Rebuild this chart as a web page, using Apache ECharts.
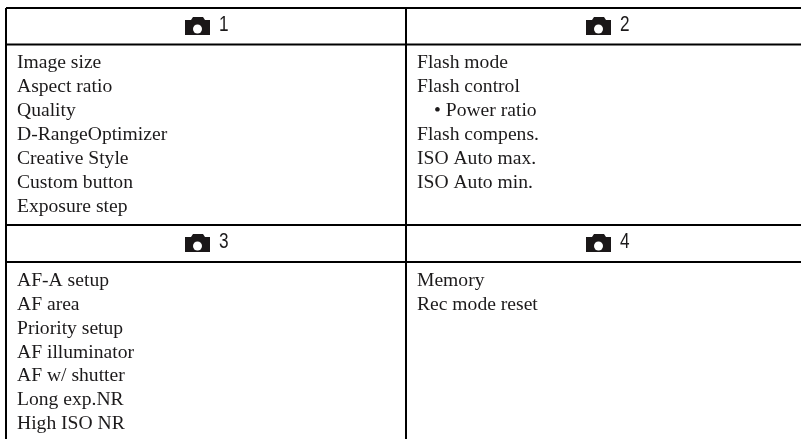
<!DOCTYPE html>
<html>
<head>
<meta charset="utf-8">
<script src="https://cdn.jsdelivr.net/npm/echarts@6/dist/echarts.min.js"></script>
<style>
html, body { margin: 0; padding: 0; background: #fff; }
#chart { width: 801px; height: 439px; }
</style>
</head>
<body>
<div id="chart"></div>
<script>
const panelTitles = ["1", "2", "3", "4"];
const panel1Items = ["Image size", "Aspect ratio", "Quality", "D-RangeOptimizer", "Creative Style", "Custom button", "Exposure step"];
const panel2Items = ["Flash mode", "Flash control", "• Power ratio", "Flash compens.", "ISO Auto max.", "ISO Auto min."];
const panel3Items = ["AF-A setup", "AF area", "Priority setup", "AF illuminator", "AF w/ shutter", "Long exp.NR", "High ISO NR"];
const panel4Items = ["Memory", "Rec mode reset"];
const panelItems = [panel1Items, panel2Items, panel3Items, panel4Items];

// layout in page pixels, the axes below map 1:1
const colX = [6, 406];
const rowY = [8, 225];
const headerY = [26, 243];
const headerLineY = [44.5, 262];
const itemStartY = [63, 281];
const itemStep = [24, 23.8];
const rightEdge = 801;
const bottomEdge = 439;
const textColor = "#1c1a1b";
const cameraPath = "M6 3 L8 0 L18 0 L20 3 L25 3 L25 18 L0 18 L0 3 Z";

const chart = echarts.init(document.getElementById("chart"), null, { renderer: "canvas" });

const ruleData = [
	[colX[0], rowY[0], rightEdge, rowY[0]],
	[colX[0], headerLineY[0], rightEdge, headerLineY[0]],
	[colX[0], rowY[1], rightEdge, rowY[1]],
	[colX[0], headerLineY[1], rightEdge, headerLineY[1]],
	[colX[0], rowY[0], colX[0], bottomEdge],
	[colX[1], rowY[0], colX[1], bottomEdge]
];

const itemData = [];
panelItems.forEach((items, p) => {
	const col = p % 2;
	const row = Math.floor(p / 2);
	items.forEach((name, i) => {
		const indent = name.charAt(0) === "•" ? 28 : 11;
		itemData.push({ value: [colX[col] + indent, itemStartY[row] + i * itemStep[row]], name });
	});
});

const headerData = panelTitles.map((title, p) => {
	const col = p % 2;
	const row = Math.floor(p / 2);
	return { value: [colX[col] + 179 + (col ? 1 : 0), headerY[row]], name: title };
});

chart.setOption({
	animation: false,
	backgroundColor: "#fff",
	grid: { left: 0, right: 0, top: 0, bottom: 0 },
	xAxis: { type: "value", min: 0, max: 801, show: false },
	yAxis: { type: "value", min: 0, max: 439, inverse: true, show: false },
	series: [{
		type: "custom",
		name: "rules",
		silent: true,
		data: ruleData,
		encode: { x: [0, 2], y: [1, 3] },
		clip: false,
		renderItem: (params, api) => {
			const a = api.coord([api.value(0), api.value(1)]);
			const b = api.coord([api.value(2), api.value(3)]);
			return {
				type: "line",
				shape: { x1: a[0], y1: a[1], x2: b[0], y2: b[1] },
				style: { stroke: "#000", lineWidth: 2 }
			};
		}
	}, {
		type: "custom",
		name: "items",
		silent: true,
		data: itemData,
		renderItem: (params, api) => {
			const p = api.coord([api.value(0), api.value(1)]);
			return {
				type: "text",
				x: p[0],
				y: p[1],
				style: {
					text: itemData[params.dataIndex].name,
					fill: textColor,
					font: "19.6px 'Liberation Serif'",
					textAlign: "left",
					textVerticalAlign: "middle"
				}
			};
		}
	}, {
		type: "custom",
		name: "headers",
		silent: true,
		data: headerData,
		renderItem: (params, api) => {
			const p = api.coord([api.value(0), api.value(1)]);
			return {
				type: "group",
				x: p[0],
				y: p[1],
				children: [{
					type: "path",
					shape: { pathData: cameraPath, x: 0, y: -9, width: 25, height: 18 },
					style: { fill: "#1a1718" }
				}, {
					type: "circle",
					shape: { cx: 12.5, cy: 3, r: 4.5 },
					style: { fill: "#fff" }
				}, {
					type: "text",
					x: 34,
					y: -1,
					scaleX: 0.8,
					style: {
						text: headerData[params.dataIndex].name,
						fill: textColor,
						font: "21.5px 'Liberation Sans'",
						textAlign: "left",
						textVerticalAlign: "middle"
					}
				}]
			};
		}
	}]
});
</script>
</body>
</html>
